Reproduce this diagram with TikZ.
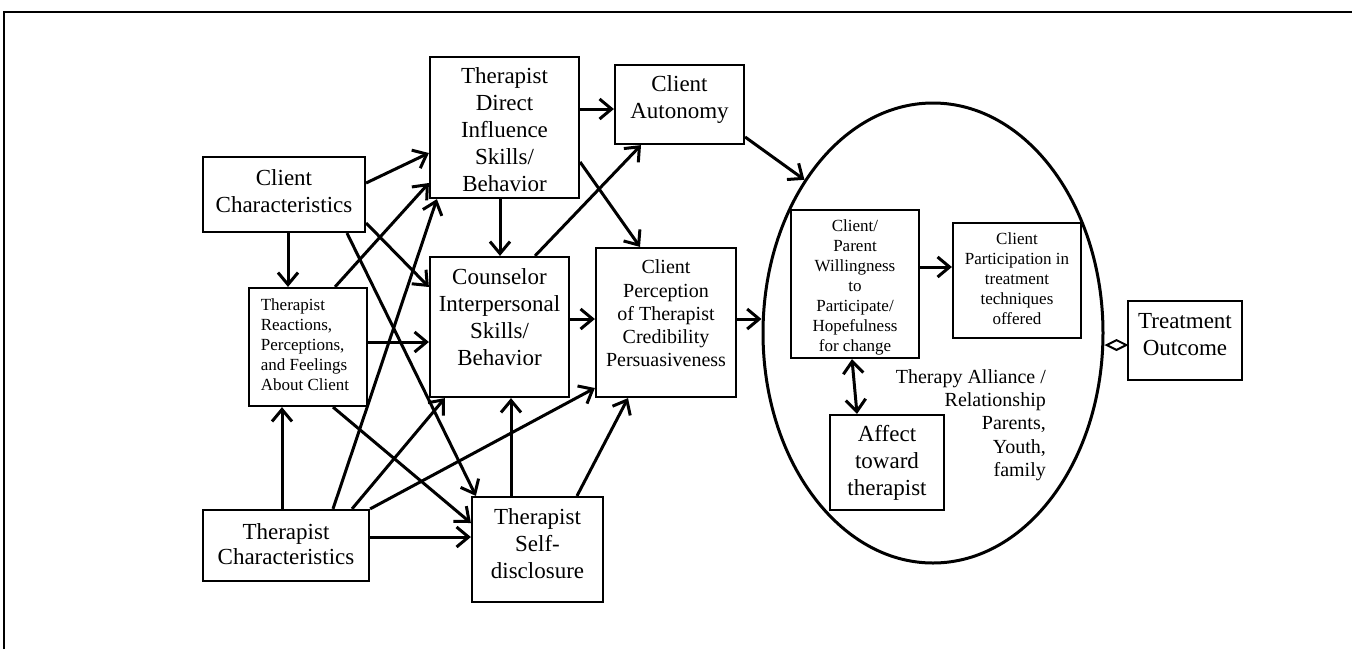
\documentclass[tikz,border=0pt]{standalone}
\usepackage{fontspec}
\setmainfont{Liberation Serif}
\usetikzlibrary{arrows.meta,shapes.geometric}
\begin{document}
\begin{tikzpicture}[x=1pt,y=-1pt,
  box/.style={draw, line width=2.2pt, inner sep=0pt},
  fbig/.style={font=\fontsize{23}{27}\selectfont, align=center, inner sep=0pt},
  fbigt/.style={font=\fontsize{23}{25}\selectfont, align=center, inner sep=0pt},
  fmid/.style={font=\fontsize{20}{23.3}\selectfont, align=center, inner sep=0pt},
  fsmall/.style={font=\fontsize{17}{20}\selectfont, align=center, inner sep=0pt},
  fsmallL/.style={font=\fontsize{17}{20}\selectfont, align=left, inner sep=0pt},
  arr/.style={line width=3pt, -{Straight Barb[length=12pt,width=20pt]}},
  darr/.style={line width=3pt, {Straight Barb[length=12pt,width=20pt]}-{Straight Barb[length=12pt,width=20pt]}},
  diam/.style={line width=2pt, {Diamond[open,length=24pt,width=12pt]}-}
]
\useasboundingbox (0,0) rectangle (1352,649);
\fill[white] (0,0) rectangle (1352,649);
% frame
\draw[line width=2pt] (4,649) -- (4,11.5) -- (1352,11.5);

% ellipse
\node[draw, ellipse, line width=3pt, inner sep=0pt, minimum width=340pt, minimum height=460pt] (el) at (933,333) {};

% boxes
\node[box, minimum width=162pt, minimum height=75pt,
  label={[fbig, name=cc-t, yshift=3pt]center:{Client\\Characteristics}}] (cc) at (284,194.5) {};
\node[box, minimum width=118pt, minimum height=118pt,
  label={[fsmallL, name=tr-t, yshift=2pt, xshift=-3pt]center:{Therapist\\Reactions,\\Perceptions,\\and Feelings\\About Client}}] (tr) at (308,347) {};
\node[box, minimum width=149pt, minimum height=141pt,
  label={[fbig, name=di-t, yshift=-2pt]center:{Therapist\\Direct\\Influence\\Skills/\\Behavior}}] (di) at (504.5,127.5) {};
\node[box, minimum width=129pt, minimum height=79pt,
  label={[fbig, name=ca-t, yshift=5pt]center:{Client\\Autonomy}}] (ca) at (679.5,104.5) {};
\node[box, minimum width=139pt, minimum height=140pt,
  label={[fbig, name=ci-t, yshift=10pt]center:{Counselor\\Interpersonal\\Skills/\\Behavior}}] (ci) at (499.5,327) {};
\node[box, minimum width=140pt, minimum height=149pt,
  label={[fmid, name=cp-t, yshift=9pt]center:{Client\\Perception\\of Therapist\\Credibility\\Persuasiveness}}] (cp) at (666,322.5) {};
\node[box, minimum width=166pt, minimum height=71pt,
  label={[fbigt, name=tc-t, yshift=1pt]center:{Therapist\\Characteristics}}] (tc) at (286,545.5) {};
\node[box, minimum width=131pt, minimum height=105pt,
  label={[fbig, name=sd-t, yshift=6pt]center:{Therapist\\Self-\\disclosure}}] (sd) at (537.5,549.5) {};
\node[box, minimum width=128pt, minimum height=148pt,
  label={[fsmall, name=wp-t, yshift=-3pt]center:{Client/\\Parent\\Willingness\\to\\Participate/\\Hopefulness\\for change}}] (wp) at (855,284) {};
\node[box, minimum width=128pt, minimum height=115pt,
  label={[fsmall, name=pt-t, yshift=2pt]center:{Client\\Participation in\\treatment\\techniques\\offered}}] (pt) at (1017,280.5) {};
\node[box, minimum width=114pt, minimum height=95pt,
  label={[fbig, name=af-t]center:{Affect\\toward\\therapist}}] (af) at (887,462.5) {};
\node[box, minimum width=114pt, minimum height=79pt,
  label={[fbig, name=to-t, yshift=6pt]center:{Treatment\\Outcome}}] (to) at (1185,340.5) {};
\node[font=\fontsize{20}{23.3}\selectfont, align=right, inner sep=0pt, anchor=east] (al) at (1046,425) {Therapy Alliance /\\Relationship\\Parents,\\Youth,\\family};

% connectors
\draw[arr] ([yshift=11.5pt]cc.east) -- ([yshift=-25.5pt]di.west);
\draw[arr] ([yshift=-28.5pt]cc.east) -- ([yshift=40pt]ci.west);
\draw[arr] ([xshift=63pt]cc.south) -- ([xshift=5pt]sd.north west);
\draw[arr] ([xshift=4pt]cc.south) -- ([xshift=-20pt]tr.north);
\draw[arr] ([xshift=27pt]tr.north) -- ([yshift=-55.5pt]di.west);
\draw[arr] ([yshift=5pt]tr.east) -- ([yshift=-15pt]ci.west);
\draw[arr] ([xshift=25pt]tr.south) -- ([yshift=26.5pt]sd.west);
\draw[arr] ([xshift=-4pt]tc.north) -- ([xshift=-26pt]tr.south);
\draw[arr] ([xshift=47pt]tc.north) -- ([xshift=8pt]di.south west);
\draw[arr] ([xshift=66pt]tc.north) -- ([xshift=16pt]ci.south west);
\draw[arr] (tc.north east) -- ([yshift=-65.5pt]cp.west);
\draw[arr] ([yshift=8.5pt]tc.east) -- ([yshift=12.5pt]sd.west);
\draw[arr] ([xshift=-26.5pt]sd.north) -- ([xshift=11.5pt]ci.south);
\draw[arr] ([xshift=39.5pt]sd.north) -- ([xshift=-38pt]cp.south);
\draw[arr] ([xshift=-4.5pt]di.south) -- ([xshift=0.5pt]ci.north);
\draw[arr] ([yshift=18.5pt]di.east) -- ([yshift=-4.5pt]ca.west);
\draw[arr] ([yshift=-34.5pt]di.east) -- ([xshift=-26pt]cp.north);
\draw[arr] ([xshift=35.5pt]ci.north) -- ([xshift=-38.5pt]ca.south);
\draw[arr] ([yshift=8pt]ci.east) -- ([yshift=3.5pt]cp.west);
\draw[arr] ([yshift=3.5pt]cp.east) -- ([yshift=14pt]el.west);
\draw[arr] ([yshift=-32.5pt]ca.east) -- (el.130);
\draw[arr] ([yshift=17pt]wp.east) -- ([yshift=13.5pt]pt.west);
\draw[darr] ([xshift=-3pt]wp.south) -- ([xshift=-30pt]af.north);
\draw[diam] ([yshift=-12pt]el.east) -- ([yshift=-4.5pt]to.west);
\end{tikzpicture}
\end{document}
